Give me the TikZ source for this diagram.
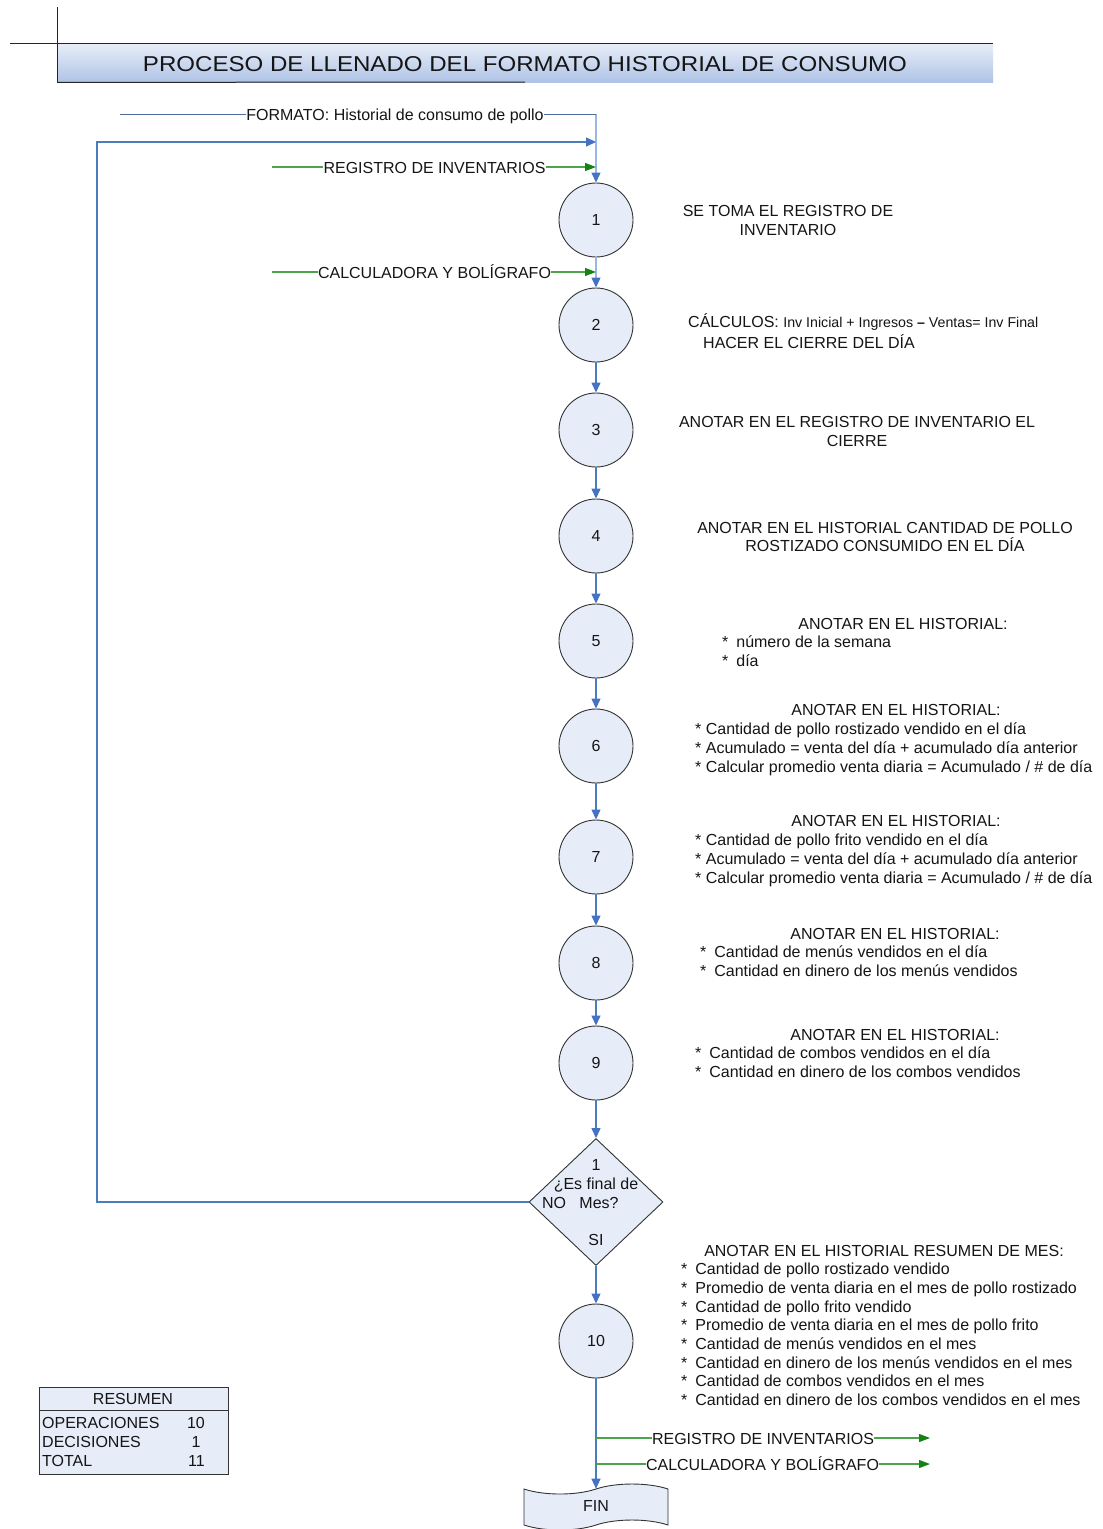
\documentclass[tikz,border=0pt]{standalone}
\usepackage{fontspec}
\setmainfont{Liberation Sans}
\newfontfamily\titlefont[FakeStretch=1.12]{Liberation Sans}
\usetikzlibrary{arrows.meta,shapes.geometric,shapes.symbols}

\definecolor{boxfill}{HTML}{E6EDF8}
\definecolor{flow}{HTML}{4A7EBB}
\definecolor{flowlight}{HTML}{9AB7E3}
\definecolor{flowtip}{HTML}{4472C4}
\definecolor{matline}{HTML}{4BA64B}
\definecolor{mattip}{HTML}{148214}
\definecolor{docline}{HTML}{4F6A9A}
\definecolor{barTop}{HTML}{E8EEF8}
\definecolor{barBot}{HTML}{AFC3E6}
\definecolor{ink}{HTML}{151515}

% bullet used in the step descriptions
\newcommand\bul{*\hspace{3.5pt}\ }

\begin{document}
\begin{tikzpicture}[x=1pt,y=-1pt,
  every node/.style={font=\fontsize{16}{19}\selectfont, text=ink, inner sep=0pt},
  lbl/.style={text height=11.5pt, text depth=0pt, yshift=-1pt},
  lw/.style={lbl, anchor=west},
  op/.style={circle, draw=black!80, line width=0.9pt, fill=boxfill, minimum size=74pt},
  flowline/.style={draw=flow, line width=1.3pt},
  flowarrow/.style={flowline, -{Triangle[length=10pt,width=9pt,color=flowtip]}},
  inarrow/.style={draw=matline, line width=1.1pt, -{Triangle[length=11pt,width=8pt,color=mattip]}},
  inline/.style={draw=matline, line width=1.1pt},
]
\useasboundingbox (0,0) rectangle (1103,1529);
\fill[white] (0,0) rectangle (1103,1529);

% ---------- title bar ----------
\node[anchor=north west, minimum width=936pt, minimum height=39pt,
      top color=barTop, bottom color=barBot, draw=none] (bar) at (57,43) {};
\node[text height=15.4pt, text depth=0pt, font=\titlefont\fontsize{21.5}{24}\selectfont] (title) at (525,64)
  {PROCESO DE LLENADO DEL FORMATO HISTORIAL DE CONSUMO};
\draw[black!85, line width=1pt] (10,43) -- (bar.north east);
\draw[black!85, line width=1pt] (57,7) -- (bar.south west);
\draw[black!85, line width=1pt] (bar.south west) -- (525,82);

% ---------- operations ----------
\foreach \n/\y in {1/220,2/325,3/430,4/536,5/641,6/746,7/857,8/963,9/1063,10/1341}
  \node[op] (c\n) at (596,\y) {\n};

\node[diamond, draw=black!80, line width=0.9pt, fill=boxfill,
      minimum width=134pt, minimum height=127pt] (d) at (596,1202) {};
\node[lbl] (dn) at (596,1164) {1};
\node[lbl] (dq) at (596,1183) {¿Es final de};
\node[lbl] (dm) at (599,1202) {Mes?};
\node[lbl] (dno) at (554,1202) {NO};
\node[lbl] (dsi) at (596,1239) {SI};

\node[tape, draw=black!80, line width=0.9pt, fill=boxfill, minimum width=144pt,
      minimum height=46pt, tape bend height=10pt] (fin) at (596,1507) {};
\node[lbl] (fint) at (596,1505) {FIN};

% ---------- main flow ----------
\coordinate (j0) at (596,114);
\draw[flowarrow, draw=flowlight] (j0) -- (c1.north);
\draw[flowarrow, draw=flowlight] (c1.south) -- (c2.north);
\foreach \a/\b in {2/3,3/4,4/5,5/6,6/7,7/8,8/9}
  \draw[flowarrow] (c\a.south) -- (c\b.north);
\draw[flowarrow] (c9.south) -- (d.north);
\draw[flowarrow] (d.south) -- (c10.north);
\draw[flowarrow] (c10.south) -- (fin.north);

% feedback when it is not the end of the month
\coordinate (fb1) at (97,1202);
\coordinate (fb2) at (97,142);
\coordinate (fb3) at (596,142);
\draw[flowarrow] (d.west) -- (fb1) -- (fb2) -- (fb3);

% ---------- inputs ----------
\coordinate (f0) at (120,114);
\node[lbl] (fmt) at (395,114) {FORMATO: Historial de consumo de pollo};
\draw[docline, line width=0.9pt] (f0) -- (f0 -| fmt.west);
\draw[docline, line width=0.9pt] (j0 -| fmt.east) -- (j0);

\coordinate (r0) at (272,167);
\coordinate (r1) at (596,167);
\node[lbl] (reg) at (434.5,167) {REGISTRO DE INVENTARIOS};
\draw[inline] (r0) -- (r0 -| reg.west);
\draw[inarrow] (r1 -| reg.east) -- (r1);

\coordinate (k0) at (272,272);
\coordinate (k1) at (596,272);
\node[lbl] (calc) at (434.5,272) {CALCULADORA Y BOLÍGRAFO};
\draw[inline] (k0) -- (k0 -| calc.west);
\draw[inarrow] (k1 -| calc.east) -- (k1);

% ---------- outputs ----------
\coordinate (o1) at (596,1438);
\coordinate (o1e) at (930,1438);
\node[lbl] (oreg) at (763,1438) {REGISTRO DE INVENTARIOS};
\draw[inline] (o1) -- (o1 -| oreg.west);
\draw[inarrow] (o1e -| oreg.east) -- (o1e);

\coordinate (o2) at (596,1464);
\coordinate (o2e) at (930,1464);
\node[lbl] (ocalc) at (762.5,1464) {CALCULADORA Y BOLÍGRAFO};
\draw[inline] (o2) -- (o2 -| ocalc.west);
\draw[inarrow] (o2e -| ocalc.east) -- (o2e);

% ---------- step descriptions ----------
\node[lbl] (s1a) at (788,210) {SE TOMA EL REGISTRO DE};
\node[lbl] (s1b) at (788,229) {INVENTARIO};

\node[lw] (s2a) at (688,321) {CÁLCULOS: {\fontsize{14.2}{16}\selectfont Inv Inicial + Ingresos \textbf{–} Ventas= Inv Final}};
\node[lw] (s2b) at (703,342) {HACER EL CIERRE DEL DÍA};

\node[lbl] (s3a) at (857,421) {ANOTAR EN EL REGISTRO DE INVENTARIO EL};
\node[lbl] (s3b) at (857,440) {CIERRE};

\node[lbl] (s4a) at (885,527) {ANOTAR EN EL HISTORIAL CANTIDAD DE POLLO};
\node[lbl] (s4b) at (885,545) {ROSTIZADO CONSUMIDO EN EL DÍA};

\node[lbl] (s5h) at (903,623) {ANOTAR EN EL HISTORIAL:};
\node[lw] (s5a) at (722,641) {\bul número de la semana};
\node[lw] (s5b) at (722,660) {\bul día};

\node[lbl] (s6h) at (896,709) {ANOTAR EN EL HISTORIAL:};
\foreach \t [count=\i] in {Cantidad de pollo rostizado vendido en el día,
    Acumulado = venta del día + acumulado día anterior,
    Calcular promedio venta diaria = Acumulado / \# de día}
  \node[lw] (s6-\i) at (695,{728+18.7*(\i-1)}) {* \t};

\node[lbl] (s7h) at (896,820) {ANOTAR EN EL HISTORIAL:};
\foreach \t [count=\i] in {Cantidad de pollo frito vendido en el día,
    Acumulado = venta del día + acumulado día anterior,
    Calcular promedio venta diaria = Acumulado / \# de día}
  \node[lw] (s7-\i) at (695,{839+18.7*(\i-1)}) {* \t};

\node[lbl] (s8h) at (895,933) {ANOTAR EN EL HISTORIAL:};
\node[lw] (s8a) at (700,951) {\bul Cantidad de menús vendidos en el día};
\node[lw] (s8b) at (700,970) {\bul Cantidad en dinero de los menús vendidos};

\node[lbl] (s9h) at (895,1034) {ANOTAR EN EL HISTORIAL:};
\node[lw] (s9a) at (695,1052) {\bul Cantidad de combos vendidos en el día};
\node[lw] (s9b) at (695,1071) {\bul Cantidad en dinero de los combos vendidos};

\node[lbl] (s10h) at (884,1250) {ANOTAR EN EL HISTORIAL RESUMEN DE MES:};
\foreach \t [count=\i] in {Cantidad de pollo rostizado vendido,
    Promedio de venta diaria en el mes de pollo rostizado,
    Cantidad de pollo frito vendido,
    Promedio de venta diaria en el mes de pollo frito,
    Cantidad de menús vendidos en el mes,
    Cantidad en dinero de los menús vendidos en el mes,
    Cantidad de combos vendidos en el mes,
    Cantidad en dinero de los combos vendidos en el mes}
  \node[lw] (s10-\i) at (681,{1268+18.7*(\i-1)}) {\bul \t};

% ---------- summary table ----------
\node[anchor=north west, draw=black!80, line width=0.9pt, fill=boxfill,
      minimum width=189pt, minimum height=87pt] (res) at (39,1387) {};
\draw[black!80, line width=0.9pt] (res.north west) ++(0,23) -- ++(189,0);
\node[lbl] (resh) at (133,1398) {RESUMEN};
\node[lw] (r1l) at (42,1422) {OPERACIONES};
\node[lw] (r2l) at (42,1441) {DECISIONES};
\node[lw] (r3l) at (42,1460) {TOTAL};
\node[lbl, anchor=east] (r1n) at (205,1422) {10};
\node[lbl] (r2n) at (196,1441) {1};
\node[lbl, anchor=east] (r3n) at (205,1460) {11};
\end{tikzpicture}
\end{document}
